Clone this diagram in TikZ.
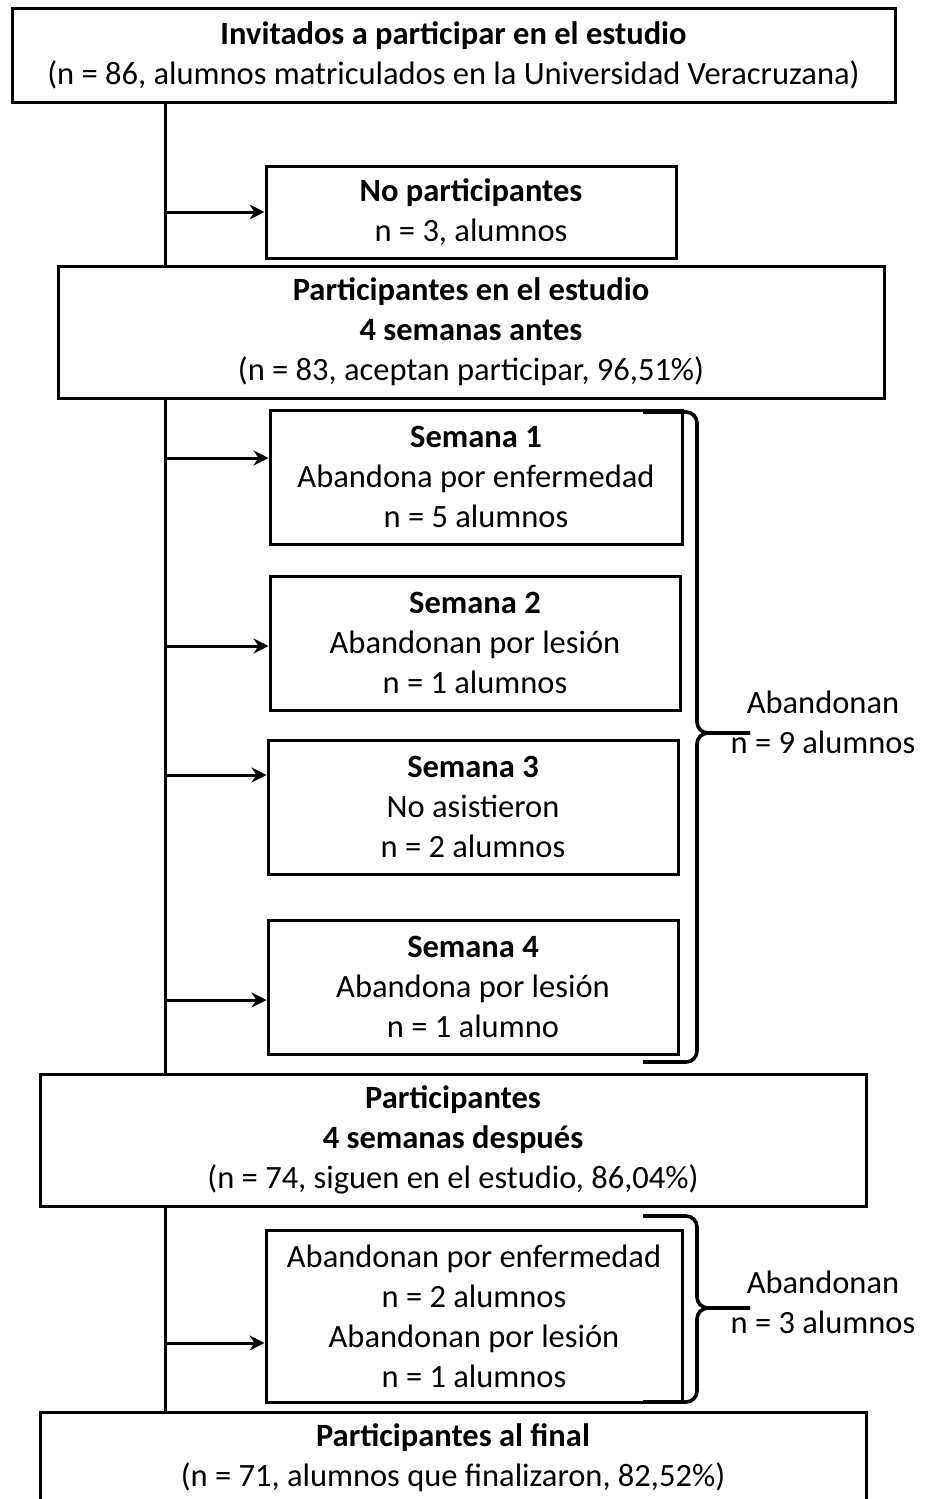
\documentclass[tikz,border=0pt]{standalone}
\usepackage{fontspec}
\setmainfont{Carlito}
\usetikzlibrary{shadows,arrows.meta}
\begin{document}
\begin{tikzpicture}[x=1pt,y=-1pt]
	\tikzset{box/.style = {draw, line width=3pt, fill=white, align=center, inner sep=0pt,
			font=\fontsize{32.5}{40}\selectfont,
			drop shadow={shadow xshift=2pt, shadow yshift=-2pt, fill=black!40}}}
	\tikzset{lbl/.style = {align=center, inner sep=0pt, font=\fontsize{32.5}{40}\selectfont}}
	\tikzset{arr/.style = {-{Stealth[length=15pt,width=15pt,inset=5pt]}, line width=3pt}}
	\tikzset{brc/.style = {line width=3.6pt, rounded corners=11pt}}

	\useasboundingbox (0,0) rectangle (924,1499);

	\node[box, minimum width=883pt, minimum height=94pt] (inv) at (453.5,55) {\textbf{Invitados a participar en el estudio}\\(n = 86, alumnos matriculados  en la Universidad Veracruzana)};
	\node[box, minimum width=410pt, minimum height=92pt] (nop) at (471,212) {\textbf{No participantes}\\n = 3, alumnos};
	\node[box, minimum width=826pt, minimum height=132pt] (part) at (471,332) {\textbf{Participantes en el estudio}\\\textbf{4 semanas antes}\\(n = 83, aceptan participar, 96,51\%)};
	\node[box, minimum width=412pt, minimum height=134pt] (s_1) at (476,477) {\textbf{Semana 1}\\Abandona por enfermedad\\n = 5 alumnos};
	\node[box, minimum width=410pt, minimum height=134pt] (s_2) at (475,643) {\textbf{Semana 2}\\Abandonan por lesión\\n = 1 alumnos};
	\node[box, minimum width=410pt, minimum height=134pt] (s_3) at (473,807) {\textbf{Semana 3}\\No asistieron\\n = 2 alumnos};
	\node[box, minimum width=410pt, minimum height=134pt] (s_4) at (473,987) {\textbf{Semana 4}\\Abandona por lesión\\n = 1 alumno};
	\node[box, minimum width=826pt, minimum height=132pt] (desp) at (453,1140) {\textbf{Participantes}\\\textbf{4 semanas después}\\(n = 74, siguen en el estudio, 86,04\%)};
	\node[box, minimum width=416pt, minimum height=172pt] (aban) at (474,1316) {Abandonan por enfermedad\\n = 2 alumnos\\Abandonan por lesión\\n = 1 alumnos};
	\node[box, minimum width=826pt, minimum height=92pt] (fin) at (453,1458) {\textbf{Participantes al final}\\(n = 71, alumnos que finalizaron, 82,52\%)};

	% tronco
	\coordinate (spine) at (165,0);
	\draw[line width=3pt] (spine |- inv.south) -- (spine |- part.north);
	\draw[line width=3pt] (spine |- part.south) -- (spine |- desp.north);
	\draw[line width=3pt] (spine |- desp.south) -- (spine |- fin.north);

	\coordinate (a_0) at (nop.west);
	\coordinate (a_1) at ([yshift=19pt]s_1.west);
	\coordinate (a_2) at ([yshift=-3pt]s_2.west);
	\coordinate (a_3) at ([yshift=32pt]s_3.west);
	\coordinate (a_4) at ([yshift=-13pt]s_4.west);
	\coordinate (a_5) at ([yshift=-27pt]aban.west);

	\draw[arr] (spine |- a_0) -- (a_0);
	\draw[arr] (spine |- a_1) -- (a_1);
	\draw[arr] (spine |- a_2) -- (a_2);
	\draw[arr] (spine |- a_3) -- (a_3);
	\draw[arr] (spine |- a_4) -- (a_4);
	\draw[arr] (spine |- a_5) -- (a_5);

	% llaves
	\draw[brc] (643,412) -- (697,412) -- (697,733) -- (750,733);
	\draw[brc] (750,733) -- (697,733) -- (697,1062) -- (643,1062);
	\draw[brc] (643,1216) -- (697,1216) -- (697,1308) -- (750,1308);
	\draw[brc] (750,1308) -- (697,1308) -- (697,1402) -- (643,1402);

	\node[lbl] (ab_9) at (823,722) {Abandonan\\n = 9 alumnos};
	\node[lbl] (ab_3) at (823,1302) {Abandonan\\n = 3 alumnos};

\end{tikzpicture}
\end{document}
